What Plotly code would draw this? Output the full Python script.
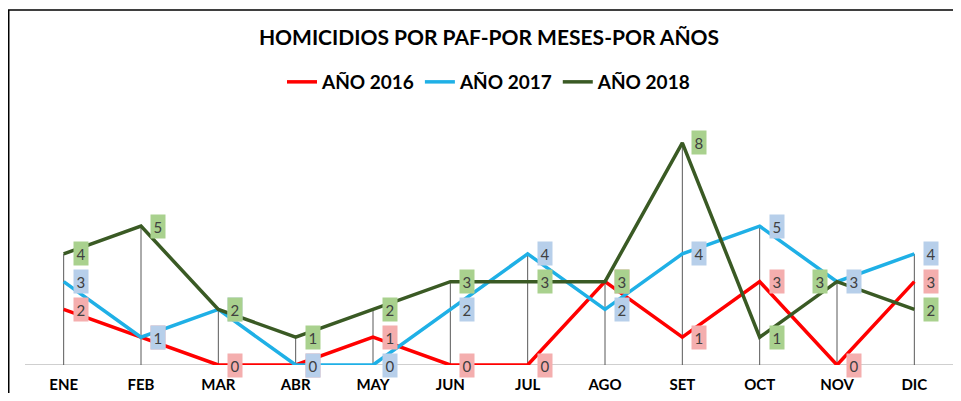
import plotly.graph_objects as go

months = ["ENE", "FEB", "MAR", "ABR", "MAY", "JUN", "JUL", "AGO", "SET", "OCT", "NOV", "DIC"]
y2016 = [2, 1, 0, 0, 1, 0, 0, 3, 1, 3, 0, 3]
y2017 = [3, 1, 2, 0, 0, 2, 4, 2, 4, 5, 3, 4]
y2018 = [4, 5, 2, 1, 2, 3, 3, 3, 8, 1, 3, 2]
series_names = ["AÑO 2016", "AÑO 2017", "AÑO 2018"]
line_colors = ["#FF0000", "#1FB0E6", "#3A5A24"]
label_bg = ["#F4AEAE", "#B7CFEA", "#A9D18E"]

FONT = "Lato"
series = [y2016, y2017, y2018]

# page body has an 8px margin: figure sized to fit the 961x401 window
W, H = 945, 385
L, R, T, B = 17, 0, 107, 28
PW, PH = W - L - R, H - T - B

fig = go.Figure()

# drop lines from the highest point down to the axis
maxes = [max(a, b, c) for a, b, c in zip(y2016, y2017, y2018)]
dx, dy = [], []
for m, v in zip(months, maxes):
    dx += [m, m, None]
    dy += [0, v, None]
fig.add_trace(go.Scatter(x=dx, y=dy, mode="lines", line=dict(color="#595959", width=1),
                         showlegend=False, hoverinfo="skip"))

for name, vals, col in zip(series_names, series, line_colors):
    fig.add_trace(go.Scatter(x=months, y=vals, mode="lines", name="<b>" + name + "</b>",
                             line=dict(color=col, width=3.5)))

annotations = []
for si, (vals, bg) in enumerate(zip(series, label_bg)):
    for m, v in zip(months, vals):
        shift = 17
        if si == 2 and m == "NOV":
            shift = -17
        annotations.append(dict(x=m, y=v, xref="x", yref="y", text=str(v), showarrow=False,
                                xshift=shift, bgcolor=bg, borderpad=2.5,
                                font=dict(family=FONT, size=15, color="#404040")))

fig.update_layout(
    width=W, height=H,
    margin=dict(l=L, r=R, t=T, b=B, autoexpand=False),
    paper_bgcolor="white", plot_bgcolor="white",
    title=dict(text="<b>HOMICIDIOS POR PAF-POR MESES-POR AÑOS</b>", x=0.5, xref="paper",
               y=1 - 30 / H, yanchor="middle", xanchor="center",
               font=dict(family=FONT, size=21, color="#000000")),
    legend=dict(orientation="h", x=0.5, xanchor="center", y=(H - B - 74) / PH, yanchor="middle",
                font=dict(family=FONT, size=19, color="#000000"), itemwidth=30,
                bgcolor="rgba(0,0,0,0)"),
    xaxis=dict(type="category", categoryorder="array", categoryarray=months, range=[-0.5, 11.5],
               showgrid=False, zeroline=False, showline=False, ticks="", ticklabelstandoff=9,
               automargin=False,
               tickfont=dict(family=FONT, size=15, color="#000000", weight="bold"), fixedrange=True),
    yaxis=dict(range=[0, 9], showgrid=False, zeroline=False, showticklabels=False,
               showline=False, fixedrange=True, automargin=False),
    annotations=annotations,
    shapes=[
        dict(type="line", xref="paper", yref="y", x0=0, x1=1, y0=0, y1=0,
             line=dict(color="#BFBFBF", width=1.5), layer="below"),
        dict(type="rect", xref="paper", yref="paper", x0=-L / PW + 0.0008, x1=1.2,
             y0=-0.5, y1=(H - B - 2) / PH, line=dict(color="#000000", width=1.5)),
    ],
    showlegend=True,
)

fig.write_html("out.html")
